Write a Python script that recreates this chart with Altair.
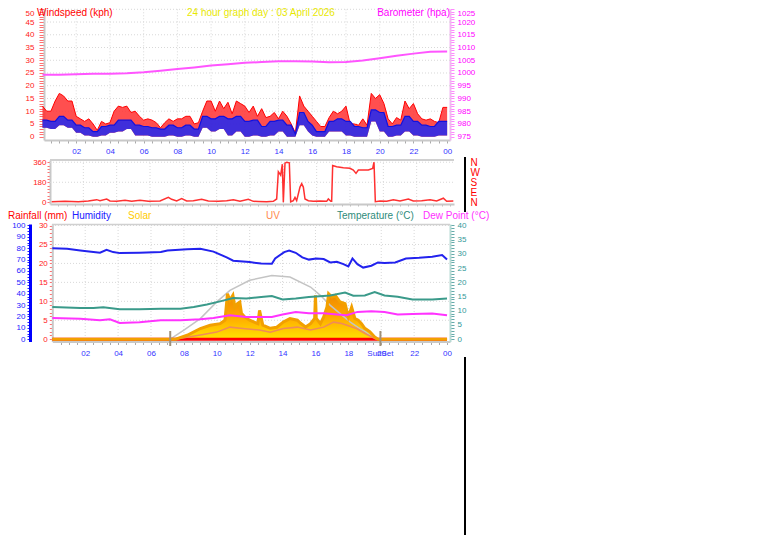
import altair as alt
import pandas as pd

FONT = "Liberation Sans"
W, H = 745, 527

# ---------------- data ----------------
# wind, sampled every 15 minutes from 00:00 to 24:00
wind_gust_kph = [12, 10, 10, 14, 17, 16, 14, 14, 8, 7, 6, 7, 5, 2.5, 6, 5,
                 5.5, 10, 12, 11.5, 12, 9.5, 10, 8, 6.5, 7, 6.5, 5.5, 3.5, 5.5, 7, 6,
                 7, 7, 8, 8, 5, 5.5, 10, 14, 14, 10, 14, 11, 13.5, 9, 14, 13,
                 12, 9.5, 12, 8, 11, 7.5, 8, 9.5, 7, 10, 8, 5, 1.5, 16, 12, 10,
                 8, 6, 4, 4, 7.5, 10, 9, 10, 12, 5, 5, 4.5, 7, 4.5, 17, 15,
                 16.5, 13, 7, 5, 7.5, 6.5, 14, 11, 13, 9, 7, 6.5, 7, 6, 5.5, 11.5,
                 11.5]
wind_avg_hi_kph = [6.5, 6.5, 6, 6, 8, 8, 6.5, 6.5, 4.5, 4.5, 3.5, 3.5, 2, 2, 4, 4,
                   4.5, 4.5, 6.5, 6.5, 6.5, 6.5, 4.5, 4.5, 4, 4, 3.5, 3.5, 3, 3, 4.5, 4.5,
                   3.5, 3.5, 4.5, 4.5, 3, 3, 8, 8, 7, 7, 8, 8, 7, 7, 8, 8,
                   6, 6, 6.5, 6.5, 4, 4, 6, 6, 6.5, 6.5, 4.5, 4.5, 1, 9.5, 9.5, 6,
                   4.5, 2, 2, 2, 6, 6, 7, 7, 6, 6, 4, 4, 3.5, 3.5, 10.5, 10.5,
                   9.5, 9.5, 4, 4, 4.5, 4.5, 8, 8, 6, 6, 4.5, 4.5, 4, 4, 6, 6,
                   6]
wind_avg_lo_kph = [3.5, 3.5, 3, 3, 4.5, 4.5, 3.5, 3.5, 1.5, 1.5, 0.5, 0.5, 0, 0, 0.5, 0.5,
                   1.5, 1.5, 2, 2, 3, 3, 0.5, 0.5, 0.5, 0.5, 0, 0, 0, 0, 0.5, 0.5,
                   0, 0, 0.5, 0.5, 0, 0, 3.5, 3.5, 2, 2, 3, 3, 0.5, 0.5, 2, 2,
                   0, 0, 0.5, 0.5, 0, 0, 0.5, 0.5, 2, 2, 0, 0, 0, 4.5, 4.5, 2,
                   0.5, 0, 0, 0, 2, 2, 2, 2, 0.5, 0.5, 0, 0, 0, 0, 6, 6,
                   2, 2, 0, 0, 0.5, 0.5, 2, 2, 0.5, 0.5, 0, 0, 0, 0, 0.5, 0.5,
                   0.5]
wind_hours = [i * 0.25 for i in range(len(wind_gust_kph))]

baro_hours = list(range(25))
baro_hpa = [999.3, 999.3, 999.5, 999.7, 999.7, 999.9, 1000.3, 1000.9, 1001.6, 1002.2,
            1002.9, 1003.4, 1004.0, 1004.3, 1004.6, 1004.6, 1004.5, 1004.2, 1004.3,
            1004.9, 1005.8, 1006.8, 1007.6, 1008.3, 1008.4]

dir_hours = [0.1, 0.9, 1.7, 2.3, 2.8, 3.0, 3.4, 3.6, 4.0, 4.5, 4.9, 5.4, 5.9, 6.6, 7.1, 7.3,
             7.6, 7.9, 8.2, 8.6, 9.1, 9.5, 10.1, 10.6, 11.0, 11.4, 11.9, 12.2, 12.5, 13.0,
             13.4, 13.6, 13.7, 13.84, 13.94, 14.0, 14.1, 14.2, 14.36, 14.44, 14.6, 14.7,
             14.8, 15.0, 15.1, 15.2, 15.3, 15.5, 15.8, 16.2, 16.6, 16.7, 16.85, 16.9,
             16.96, 17.2, 17.6, 18.0, 18.2, 18.36, 18.5, 18.8, 19.1, 19.36, 19.44, 19.52,
             19.8, 20.2, 20.6, 21.0, 21.5, 21.8, 22.3, 22.8, 23.2, 23.6, 23.8, 24.2]
dir_deg = [6, 9, 6, 12, 24, 15, 30, 12, 9, 18, 9, 18, 9, 12, 45, 27,
           12, 33, 12, 15, 27, 12, 9, 15, 24, 9, 27, 9, 8, 6,
           9, 30, 275, 244, 342, 0, 351, 360, 355, 5, 15, 45,
           15, 137, 168, 137, 30, 15, 9, 12, 9, 30, 9, 9,
           330, 320, 311, 305, 290, 260, 290, 290, 290, 305, 360, 6,
           12, 9, 24, 12, 30, 12, 15, 24, 12, 37, 9, 12]

hum_hours = [0, 0.9, 1.7, 2.5, 2.9, 3.3, 3.7, 4.1, 5.3, 6.6, 7.0, 8.2, 9.0, 9.8, 10.6,
             11.0, 12.0, 12.7, 13.35, 13.55, 14.1, 14.4, 14.8, 15.2, 15.6, 16.05, 16.5,
             16.9, 17.3, 17.7, 18.0, 18.25, 18.55, 18.9, 19.4, 19.8, 20.2, 20.85, 21.5,
             22.3, 23.1, 23.7, 24]
hum_pct = [80, 79.5, 78, 76.6, 76, 78.6, 76.6, 75.7, 76, 76.6, 78, 79, 79.5, 77, 72,
           69, 67.8, 66.5, 66.4, 71, 76.6, 78, 76, 72, 70, 71, 70.5,
           67.5, 68, 66, 64, 71, 66, 63, 64.6, 67.5, 67, 67.5, 71,
           71.6, 72.5, 74, 70]

temp_hours = [0, 1.7, 2.5, 3.1, 4.1, 5.3, 6.6, 7.8, 8.6, 9.4, 10.2, 11.0, 11.8, 12.7,
              13.35, 14.0, 14.8, 15.6, 16.9, 17.8, 18.3, 19.0, 19.6, 20.2, 21.0, 21.9,
              23.1, 24]
temp_c = [11.3, 11.0, 11.0, 11.2, 10.5, 10.5, 10.7, 10.7, 11.3, 12.2, 13.3, 14.5, 14.3,
          14.8, 15.2, 14.0, 14.3, 14.8, 15.4, 16.4, 15.3, 15.4, 16.6, 15.4, 14.9, 14.0,
          14.0, 14.3]

dew_hours = [0, 1.7, 2.9, 3.5, 4.1, 5.3, 6.6, 7.8, 9.0, 9.8, 10.8, 11.8, 13.35, 14.0,
             14.8, 15.6, 16.5, 17.3, 17.9, 18.55, 19.4, 20.2, 21.0, 21.9, 23.1, 24]
dew_c = [7.5, 7.2, 6.7, 7.0, 5.7, 6.0, 6.7, 6.7, 7.0, 7.5, 8.4, 7.8, 7.8, 8.7,
         9.6, 9.1, 9.1, 8.7, 8.4, 9.6, 9.8, 9.6, 8.7, 8.9, 9.0, 8.4]

solar_hours = [0, 7.17, 7.5, 8.2, 9.0, 9.6, 10.2, 10.5, 10.65, 10.8, 10.98, 11.1, 11.26,
               11.4, 11.5, 11.7, 12.0, 12.5, 12.6, 12.8, 13.25, 13.65, 14.05, 14.45,
               14.9, 15.1, 15.4, 15.7, 15.95, 16.0, 16.05, 16.3, 16.5, 16.7, 16.8, 17.0,
               17.2, 17.5, 17.8, 18.0, 18.2, 18.4, 18.6, 18.8, 19.0, 19.3, 19.6, 19.8, 24]
solar_wm2 = [0, 0, 0, 35, 94, 123, 137, 167, 400, 342, 386, 283, 313,
             327, 228, 196, 167, 137, 254, 123, 96, 105, 152, 181,
             167, 140, 108, 137, 184, 386, 184, 137, 196, 283, 400, 371,
             386, 327, 313, 196, 283, 181, 167, 137, 96, 67, 20, 0, 0]

solar_max_hours = [7.17, 8.0, 9.0, 10.0, 10.8, 12.0, 13.35, 14.45, 15.7, 16.3, 16.9,
                   17.5, 18.1, 18.7, 19.03, 19.3, 19.7]
solar_max_wm2 = [0, 81, 181, 328, 430, 518, 561, 547, 459, 386, 298,
                 225, 152, 94, 66, 35, 0]

uv_hours = [0, 7.2, 8.0, 9.0, 10.0, 10.8, 11.6, 12.6, 13.25, 14.05, 14.9, 15.7, 16.5,
            17.1, 17.6, 18.5, 19.1, 19.7, 24]
uv_index = [0, 0, 0.2, 0.6, 1.0, 1.7, 1.5, 1.3, 1.0, 1.5, 1.7, 1.3, 1.7,
            2.4, 2.2, 1.5, 0.7, 0, 0]

rain_hours = [0, 24]
rain_mm = [0, 0]

sun_event_hours = [7.17, 19.95]
sun_event_names = ["SunRise", "SunSet"]

hour_ticks = [i * 0.5 for i in range(1, 49)]
hour_grid = list(range(2, 24, 2))
wind_grid = list(range(5, 51, 5))
dir_grid = [180, 360]
rain_grid = list(range(5, 31, 5))

title_wind = "Windspeed (kph)"
title_day = "24 hour graph day : 03 April 2026"
title_baro = "Barometer (hpa)"
hdr_rain = "Rainfall (mm)"
hdr_hum = "Humidity"
hdr_solar = "Solar"
hdr_uv = "UV"
hdr_temp = "Temperature (°C)"
hdr_dew = "Dew Point (°C)"

# ---------------- layout helpers (page px -> chart px) ----------------
def P(v):
    return v - 8

X_TOP = alt.Scale(domain=[0.09, 24.17], range=[P(44), P(450)], nice=False, zero=False)
Y_WIND = alt.Scale(domain=[-1.3, 50], range=[P(140), P(9.3)], nice=False, zero=False)
Y_BARO = alt.Scale(domain=[973.7, 1025], range=[P(140), P(9.3)], nice=False, zero=False)
X_MID = alt.Scale(domain=[0, 24.24], range=[P(50), P(454)], nice=False, zero=False)
Y_DIR = alt.Scale(domain=[-15, 380], range=[P(204), P(160)], nice=False, zero=False)
X_BOT = alt.Scale(domain=[0, 24.18], range=[P(52.3), P(450)], nice=False, zero=False)
BOT_RANGE = [P(341.5), P(224)]
Y_RAIN = alt.Scale(domain=[-0.6, 30.4], range=BOT_RANGE, nice=False, zero=False)
Y_HUM = alt.Scale(domain=[-2.0, 101.3], range=BOT_RANGE, nice=False, zero=False)
Y_TEMP = alt.Scale(domain=[-0.8, 40.5], range=BOT_RANGE, nice=False, zero=False)
Y_SOLAR = alt.Scale(domain=[-20, 1013], range=BOT_RANGE, nice=False, zero=False)
Y_UV = alt.Scale(domain=[-0.32, 16.2], range=BOT_RANGE, nice=False, zero=False)

HOUR_LABEL = ("datum.value % 2 === 0 ? (datum.value === 24 ? '00' : "
              "(datum.value < 10 ? '0' : '') + datum.value) : ''")


def every(n):
    return f"datum.value % {n} === 0 ? '' + datum.value : ''"


def top_baseline(vmax):
    return {"condition": {"test": f"datum.value === {vmax}", "value": "top"},
            "value": "middle"}


def ax(**kw):
    base = dict(title=None, grid=False, labelFont=FONT, labelFontSize=8,
                labelOverlap=False, labelFlush=False, labelBound=False)
    base.update(kw)
    return alt.Axis(**base)


one = pd.DataFrame({"k": [0]})
GRID = dict(color="#D8D8D8", strokeDash=[1, 2], strokeWidth=1)

layers = []

# ---------------- top panel: wind + barometer ----------------
layers.append(alt.Chart(pd.DataFrame({"v": wind_grid})).mark_rule(**GRID).encode(
    y=alt.Y("v:Q", scale=Y_WIND, axis=None), x=alt.value(P(44)), x2=alt.value(P(450))))
layers.append(alt.Chart(pd.DataFrame({"h": hour_grid})).mark_rule(**GRID).encode(
    x=alt.X("h:Q", scale=X_TOP, axis=None), y=alt.value(P(9.3)), y2=alt.value(P(140))))

df_wind = pd.DataFrame({"h": wind_hours, "gust": wind_gust_kph,
                        "hi": wind_avg_hi_kph, "lo": wind_avg_lo_kph})
df_baro = pd.DataFrame({"h": baro_hours, "p": baro_hpa})

layers.append(alt.Chart(df_baro).mark_line(color="#FF55FF", strokeWidth=2).encode(
    x=alt.X("h:Q", scale=X_TOP, axis=None),
    y=alt.Y("p:Q", scale=Y_BARO, axis=ax(
        orient="right", offset=P(450) - W, values=list(range(975, 1026)),
        labelExpr=every(5), labelBaseline=top_baseline(1025),
        labelColor="#FF00FF", tickColor="#FF88FF", tickSize=4, labelPadding=3,
        domainColor="#F0B8F0", domainWidth=2))))

layers.append(alt.Chart(df_wind).mark_area(color="#FF3030", opacity=0.85).encode(
    x=alt.X("h:Q", scale=X_TOP, axis=ax(
        orient="bottom", offset=P(140) - H, values=hour_ticks, labelExpr=HOUR_LABEL,
        labelColor="#3333FF", tickColor="#AAAAAA", tickSize=3, labelPadding=4,
        domainColor="#C8C8C8", domainWidth=2)),
    y=alt.Y("gust:Q", scale=Y_WIND, axis=ax(
        orient="left", offset=-P(44), values=list(range(0, 51)),
        labelExpr=every(5), labelBaseline=top_baseline(50),
        labelColor="#FF2020", tickColor="#FF7070", tickSize=5, labelPadding=5,
        domainColor="#C8C8C8", domainWidth=2)),
    y2=alt.Y2("lo:Q")))
layers.append(alt.Chart(df_wind).mark_line(color="#FF0000", strokeWidth=1).encode(
    x=alt.X("h:Q", scale=X_TOP, axis=None),
    y=alt.Y("gust:Q", scale=Y_WIND, axis=None)))

layers.append(alt.Chart(df_wind).mark_area(color="#2A2AEA", opacity=0.9).encode(
    x=alt.X("h:Q", scale=X_TOP, axis=None),
    y=alt.Y("hi:Q", scale=Y_WIND, axis=None),
    y2=alt.Y2("lo:Q")))
layers.append(alt.Chart(df_wind).mark_line(color="#1010E0", strokeWidth=1.2).encode(
    x=alt.X("h:Q", scale=X_TOP, axis=None),
    y=alt.Y("hi:Q", scale=Y_WIND, axis=None)))

# ---------------- middle panel: wind direction ----------------
layers.append(alt.Chart(pd.DataFrame({"v": dir_grid})).mark_rule(**GRID).encode(
    y=alt.Y("v:Q", scale=Y_DIR, axis=None), x=alt.value(P(50)), x2=alt.value(P(454))))
layers.append(alt.Chart(pd.DataFrame({"h": hour_grid})).mark_rule(**GRID).encode(
    x=alt.X("h:Q", scale=X_MID, axis=None), y=alt.value(P(160)), y2=alt.value(P(204))))
layers.append(alt.Chart(one).mark_rule(color="#D0D0D0", strokeWidth=2).encode(
    x=alt.value(P(50)), x2=alt.value(P(454)), y=alt.value(P(160))))

df_dir = pd.DataFrame({"h": dir_hours, "d": dir_deg})
layers.append(alt.Chart(df_dir).mark_line(color="#FF3030", strokeWidth=1.5).encode(
    x=alt.X("h:Q", scale=X_MID, axis=ax(
        orient="bottom", offset=P(204) - H, values=hour_ticks, labels=False,
        tickColor="#BBBBBB", tickSize=2, domainColor="#C8C8C8", domainWidth=2)),
    y=alt.Y("d:Q", scale=Y_DIR, axis=ax(
        orient="left", offset=-P(50), values=list(range(0, 361, 30)),
        labelExpr=every(180),
        labelColor="#FF2020", tickColor="#FF7070", tickSize=3, labelPadding=1,
        domainColor="#C8C8C8", domainWidth=2))))
layers.append(alt.Chart(df_dir).mark_line(strokeOpacity=0).encode(
    x=alt.X("h:Q", scale=X_MID, axis=None),
    y=alt.Y("d:Q", scale=Y_DIR, axis=ax(
        orient="right", offset=P(454) - W, values=[0, 90, 180, 270, 360],
        labelExpr="['N','E','S','W','N'][datum.value / 90]",
        labelColor="#FF0000", labelFontSize=10, ticks=False, domain=False,
        labelPadding=16))))

# ---------------- bottom panel ----------------
layers.append(alt.Chart(pd.DataFrame({"v": rain_grid})).mark_rule(**GRID).encode(
    y=alt.Y("v:Q", scale=Y_RAIN, axis=None), x=alt.value(P(52)), x2=alt.value(P(450))))
layers.append(alt.Chart(pd.DataFrame({"h": hour_grid})).mark_rule(**GRID).encode(
    x=alt.X("h:Q", scale=X_BOT, axis=None), y=alt.value(P(224)), y2=alt.value(P(341.5))))
layers.append(alt.Chart(one).mark_rule(color="#D0D0D0", strokeWidth=1.5).encode(
    x=alt.value(P(52)), x2=alt.value(P(450)), y=alt.value(P(224.5))))

df_solar = pd.DataFrame({"h": solar_hours, "s": solar_wm2})
layers.append(alt.Chart(df_solar).mark_area(
    color=alt.Gradient(
        gradient="linear",
        stops=[alt.GradientStop(color="#EE8800", offset=0),
               alt.GradientStop(color="#FFA800", offset=0.5),
               alt.GradientStop(color="#FFE400", offset=1)],
        x1=1, x2=1, y1=0, y2=1)).encode(
    x=alt.X("h:Q", scale=X_BOT, axis=None),
    y=alt.Y("s:Q", scale=Y_SOLAR, axis=None),
    y2=alt.datum(0)))

layers.append(alt.Chart(pd.DataFrame({"h": solar_max_hours, "s": solar_max_wm2}))
              .mark_line(color="#C4C4C4", strokeWidth=1.5).encode(
    x=alt.X("h:Q", scale=X_BOT, axis=None),
    y=alt.Y("s:Q", scale=Y_SOLAR, axis=None)))

layers.append(alt.Chart(pd.DataFrame({"h": rain_hours, "r": rain_mm}))
              .mark_line(color="#FF0000", strokeWidth=3).encode(
    x=alt.X("h:Q", scale=X_BOT, axis=ax(
        orient="bottom", offset=P(341.5) - H, values=hour_ticks, labelExpr=HOUR_LABEL,
        labelColor="#3333FF", tickColor="#AAAAAA", tickSize=3, labelPadding=5,
        domainColor="#C8C8C8", domainWidth=2)),
    y=alt.Y("r:Q", scale=Y_RAIN, axis=ax(
        orient="left", offset=-P(52.3), values=list(range(0, 31)),
        labelExpr=every(5),
        labelColor="#FF2020", tickColor="#FF7070", tickSize=3, labelPadding=2,
        domainColor="#C8C8C8", domainWidth=2))))

layers.append(alt.Chart(pd.DataFrame({"h": uv_hours, "u": uv_index}))
              .mark_line(color="#F08A5A", strokeWidth=1.5).encode(
    x=alt.X("h:Q", scale=X_BOT, axis=None),
    y=alt.Y("u:Q", scale=Y_UV, axis=None)))

# solar curve drawn after the rain line: at night it lies on zero and hides the red
layers.append(alt.Chart(df_solar).mark_line(color="#F2A000", strokeWidth=3).encode(
    x=alt.X("h:Q", scale=X_BOT, axis=None),
    y=alt.Y("s:Q", scale=Y_SOLAR, axis=None)))

layers.append(alt.Chart(pd.DataFrame({"h": dew_hours, "t": dew_c}))
              .mark_line(color="#FF33FF", strokeWidth=2).encode(
    x=alt.X("h:Q", scale=X_BOT, axis=None),
    y=alt.Y("t:Q", scale=Y_TEMP, axis=None)))

layers.append(alt.Chart(pd.DataFrame({"h": temp_hours, "t": temp_c}))
              .mark_line(color="#3A9A8A", strokeWidth=2).encode(
    x=alt.X("h:Q", scale=X_BOT, axis=None),
    y=alt.Y("t:Q", scale=Y_TEMP, axis=ax(
        orient="right", offset=P(450) - W, values=list(range(0, 41)),
        labelExpr=every(5),
        labelColor="#339999", tickColor="#66AAAA", tickSize=4, labelPadding=3,
        domainColor="#B8DAD4", domainWidth=2))))

layers.append(alt.Chart(pd.DataFrame({"h": hum_hours, "v": hum_pct}))
              .mark_line(color="#2222EE", strokeWidth=2).encode(
    x=alt.X("h:Q", scale=X_BOT, axis=None),
    y=alt.Y("v:Q", scale=Y_HUM, axis=ax(
        orient="left", offset=-P(30), values=[i * 2.5 for i in range(41)],
        labelExpr=every(10),
        labelColor="#2222FF", tickColor="#2222FF", tickSize=3, labelPadding=2,
        domainColor="#0000FF", domainWidth=3))))

df_sun = pd.DataFrame({"h": sun_event_hours, "name": sun_event_names})
layers.append(alt.Chart(df_sun).mark_rule(color="#A09078", strokeWidth=2).encode(
    x=alt.X("h:Q", scale=X_BOT, axis=None), y=alt.value(P(331)), y2=alt.value(P(346))))
layers.append(alt.Chart(df_sun[df_sun["name"] == "SunSet"]).mark_text(
    font=FONT, fontSize=8, color="#3333FF", baseline="middle").encode(
    x=alt.X("h:Q", scale=X_BOT, axis=None), y=alt.value(P(354)), text="name:N"))

# ---------------- texts and frame lines ----------------
def txt(s, x, y, color, size=10, align="left"):
    return alt.Chart(one).mark_text(
        text=s, align=align, baseline="alphabetic", font=FONT, fontSize=size,
        color=color).encode(x=alt.value(P(x)), y=alt.value(P(y)))

layers += [
    txt(title_wind, 37, 16, "#FF0000"),
    txt(title_day, 187, 16, "#E8E800"),
    txt(title_baro, 450, 16, "#FF00FF", align="right"),
    txt(hdr_rain, 8, 219, "#FF0000"),
    txt(hdr_hum, 72, 219, "#2020FF"),
    txt(hdr_solar, 128, 219, "#FFCC00"),
    txt(hdr_uv, 266, 219, "#FF8A50"),
    txt(hdr_temp, 337, 219, "#2E8B7A"),
    txt(hdr_dew, 423, 219, "#FF30FF"),
]

for y0, y1 in [(157, 212), (357, 535)]:
    layers.append(alt.Chart(one).mark_rule(color="#000000", strokeWidth=2).encode(
        x=alt.value(P(465)), y=alt.value(P(y0)), y2=alt.value(P(y1))))

chart = (alt.layer(*layers)
         .resolve_scale(x="independent", y="independent")
         .resolve_axis(x="independent", y="independent")
         .properties(width=W, height=H, padding=0,
                     autosize=alt.AutoSizeParams(type="none"))
         .configure(background="white")
         .configure_view(strokeWidth=0))

chart.save("out.html", embed_options={"renderer": "svg", "actions": False})
